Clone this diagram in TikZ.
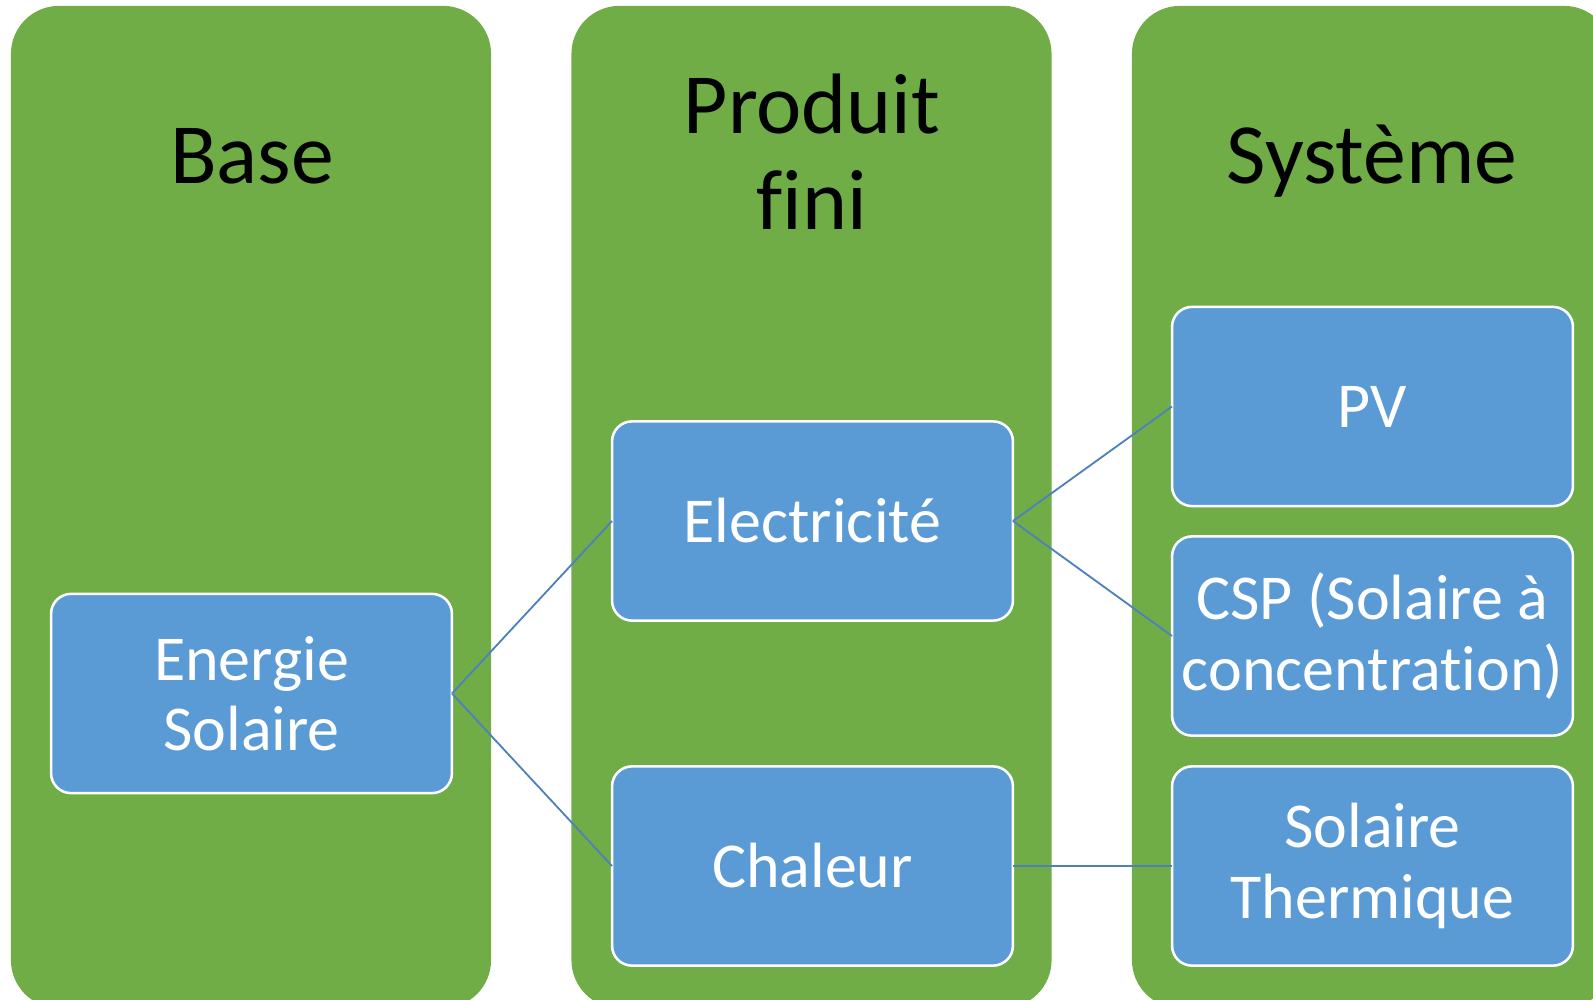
\documentclass[tikz,border=0pt]{standalone}
\usepackage{fontspec}
\setmainfont[Ligatures={NoCommon}]{Carlito}
\usepackage{tikz}
\usetikzlibrary{positioning}
\definecolor{SolGreen}{RGB}{112,173,71}
\definecolor{SolBlue}{RGB}{91,155,213}
\definecolor{SolLink}{RGB}{78,128,189}

\begin{document}
\begin{tikzpicture}[
x=0.025cm,
y=-0.025cm,
every node/.style={outer sep=0pt},
column/.style={draw=none,fill=SolGreen,rounded corners=1.2cm,minimum width=12cm,minimum height=25.05cm,inner sep=0pt},
heading/.style={font=\fontsize{61}{67.6}\selectfont,text=black,align=center,inner sep=0pt},
item/.style={draw=white,fill=SolBlue,rounded corners=0.5cm,line width=1.8pt,minimum width=10.02cm,minimum height=4.98cm,align=center,inner sep=0pt,text=white,font=\fontsize{45.5}{50}\selectfont},
link/.style={draw=SolLink,line width=1.3pt}
]

\path[use as bounding box] (0,0) rectangle (1593,1000);
\clip (0,0) rectangle (1593,1000);

% three columns
\node[column] (basecol) at (251,507) {};
\node[column] (prodcol) at (811.5,507) {};
\node[column] (syscol) at (1372,507) {};

\node[heading,anchor=base] (basehd) at (252,183) {Base};
\node[heading,anchor=base] (prodhd) at (812,229) {Produit\\fini};
\node[heading,anchor=base] (syshd) at (1372,183) {Système};

% boxes
\node[item] (solaire) at (251.5,693.5) {Energie\\Solaire};
\node[item] (elec) at (812.5,521) {Electricité};
\node[item] (chaleur) at (812.5,866) {Chaleur};
\node[item] (pv) at (1372.5,406.5) {PV};
\node[item] (csp) at (1372.5,636) {CSP (Solaire à\\concentration)};
\node[item] (thermique) at (1372.5,866) {Solaire\\Thermique};

% links
\draw[link] (solaire.east) -- (elec.west);
\draw[link] (solaire.east) -- (chaleur.west);
\draw[link] (elec.east) -- (pv.west);
\draw[link] (elec.east) -- (csp.west);
\draw[link] (chaleur.east) -- (thermique.west);

\end{tikzpicture}
\end{document}
